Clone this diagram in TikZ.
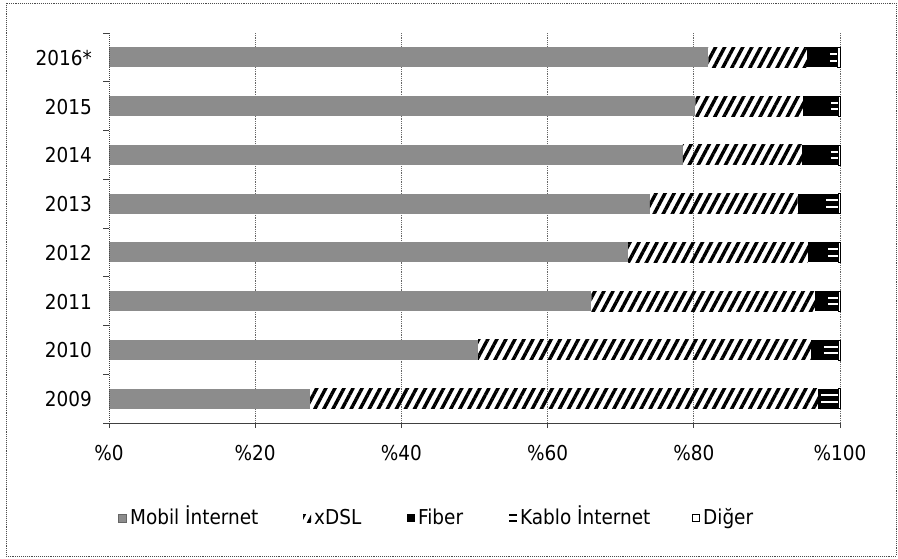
\documentclass[tikz,border=0pt]{standalone}
\usepackage{fontspec}
\setmainfont{DejaVu Sans Condensed}
\usetikzlibrary{patterns.meta}
\tikzset{
  frame/.style={draw=black!70, line width=0.9pt, densely dotted},
  grid/.style={draw=black!60, line width=0.8pt, densely dotted},
  axis/.style={draw=black!75, line width=1pt},
  mobil/.style={fill=black!45},
  xdsl/.style={pattern={Lines[angle=62,distance=8pt,line width=3.4pt]}},
  fiber/.style={fill=black},
  kabgap/.style={draw=white, line width=2pt},
  diger/.style={draw=black, line width=0.6pt, fill=white},
  ylab/.style={anchor=base east, font=\fontsize{20.5}{22}\selectfont, inner sep=0pt},
  xlab/.style={anchor=base, font=\fontsize{20.5}{22}\selectfont, inner sep=0pt},
  leg/.style={anchor=base west, font=\fontsize{20.5}{22}\selectfont, inner sep=0pt},
}
\begin{document}
\begin{tikzpicture}[x=1pt,y=-1pt]
\useasboundingbox (0,0) rectangle (898,558);
\fill[white] (0,0) rectangle (898,558);
\draw[frame] (6,3) rectangle (896,556);
% gridlines
\foreach \g in {20,40,60,80,100} {
  \draw[grid] ({109+7.31*\g},33) -- ({109+7.31*\g},423);
}
% bars
\foreach \i/\lab/\a/\b/\c/\d in {
  0/2016*/82/95.5/98.4/99.6,
  1/2015/80.2/95/98.6/99.7,
  2/2014/78.5/94.8/98.5/99.7,
  3/2013/74/94.2/97.9/99.7,
  4/2012/71/95.6/98.2/99.7,
  5/2011/66/96.6/98.2/99.7,
  6/2010/50.5/96/97.6/99.7,
  7/2009/27.5/97/97.2/99.8} {
  \pgfmathsetmacro\yc{57.4+48.75*\i}
  \node[ylab] (y\i) at (92,\yc+8) {\lab};
  \fill[mobil] (109,\yc-10) rectangle ({109+7.31*\a},\yc+10);
  \fill[xdsl] ({109+7.31*\a},\yc-10) rectangle ({109+7.31*\b},\yc+10);
  \fill[fiber] ({109+7.31*\b},\yc-10) rectangle ({109+7.31*\d},\yc+10);
  \draw[kabgap] ({109+7.31*\c+1.5},\yc-3.3) -- ({109+7.31*\d},\yc-3.3);
  \draw[kabgap] ({109+7.31*\c+1.5},\yc+3.3) -- ({109+7.31*\d},\yc+3.3);
  \draw[diger] ({109+7.31*\d},\yc-10) rectangle (840,\yc+10);
}
% axes
\draw[axis, densely dotted] (109,33) -- (109,423);
\draw[axis] (109,423) -- (840,423);
\foreach \k in {0,...,8} {
  \draw[axis] (103,{33+48.75*\k}) -- (109,{33+48.75*\k});
}
\foreach \g/\t in {0/\%0,20/\%20,40/\%40,60/\%60,80/\%80,100/\%100} {
  \draw[axis] ({109+7.31*\g},423) -- ({109+7.31*\g},428);
  \node[xlab] (x\g) at ({109+7.31*\g},460) {\t};
}
% legend
\fill[mobil, draw=black!60, line width=0.5pt] (118,514) rectangle (126,522);
\node[leg] (l1) at (130,524) {Mobil İnternet};
\fill[xdsl, draw=none] (303,514) rectangle (311,522);
\node[leg] (l2) at (314,524) {xDSL};
\fill[fiber] (407,514) rectangle (415,522);
\node[leg] (l3) at (418,524) {Fiber};
\fill[black] (509,513.5) rectangle (517,515.5);
\fill[black] (509,519.5) rectangle (517,521.5);
\node[leg] (l4) at (520,524) {Kablo İnternet};
\draw[diger] (692.5,514.5) rectangle (699.5,521.5);
\node[leg] (l5) at (703,524) {Diğer};
\end{tikzpicture}
\end{document}
